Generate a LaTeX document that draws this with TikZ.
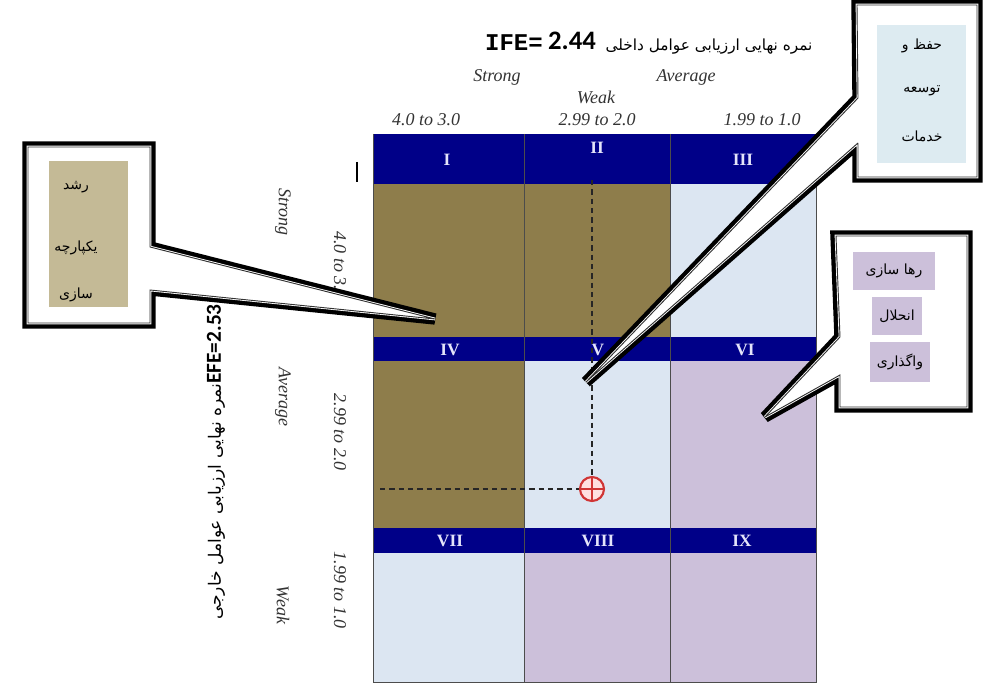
\documentclass[tikz,border=0pt]{standalone}
\usepackage{fontspec}
\setmainfont{Liberation Serif}
\newfontfamily\farsi[Script=Arabic]{DejaVu Sans}
\newfontfamily\carl{Carlito}
\newfontfamily\cmono{Liberation Mono}
\TeXXeTstate=1
\definecolor{cOlive}{HTML}{8E7D4B}
\definecolor{cBlue}{HTML}{DCE6F2}
\definecolor{cPurple}{HTML}{CCC0DA}
\definecolor{cNavy}{HTML}{000088}
\definecolor{cKhaki}{HTML}{C4BA96}
\definecolor{cPale}{HTML}{DDEBF1}
\definecolor{cNum}{HTML}{E4E4FA}
\definecolor{cMark}{HTML}{D03535}
\definecolor{cText}{HTML}{333333}
\newcommand\calloutbox[1]{%
  \draw[black, line width=8.5pt, line join=miter, miter limit=2] #1;
  \fill[white] #1;
  \draw[white, line width=2pt, line join=miter, miter limit=2] #1;
  \draw[black!80, line width=0.7pt, line join=miter, miter limit=2] #1;}
\tikzset{
  num/.style={text=cNum, font=\fontsize{13}{15}\selectfont\bfseries, inner sep=0pt},
  lab/.style={text=cText, font=\fontsize{13.5}{16}\selectfont\itshape, inner sep=0pt},
  fa/.style={text=black, font=\fontsize{10.5}{12}\farsi, inner sep=0pt},
  cellline/.style={draw=black!70, line width=0.6pt},
  guide/.style={draw=black!85, line width=0.9pt, dash pattern=on 4pt off 3pt},
}
\begin{document}
\begin{tikzpicture}[x=0.75pt, y=-0.75pt]
\useasboundingbox (0,0) rectangle (983,699);
\fill[white] (0,0) rectangle (983,699);
% cells
\fill[cOlive] (373,184) rectangle (524,337);
\fill[cOlive] (524,184) rectangle (670,337);
\fill[cBlue] (670,184) rectangle (816,337);
\fill[cOlive] (373,361) rectangle (524,528);
\fill[cBlue] (524,361) rectangle (670,528);
\fill[cPurple] (670,361) rectangle (816,528);
\fill[cBlue] (373,553) rectangle (524,682);
\fill[cPurple] (524,553) rectangle (670,682);
\fill[cPurple] (670,553) rectangle (816,682);
% header bands
\fill[cNavy] (373,134) rectangle (816,184);
\fill[cNavy] (373,337) rectangle (816,361);
\fill[cNavy] (373,528) rectangle (816,553);
% grid lines
\draw[cellline] (373,134) -- (373,682) -- (816,682) -- (816,134);
\draw[cellline] (524,134) -- (524,682);
\draw[cellline] (670,134) -- (670,682);
\draw[black, line width=1pt] (357,162) -- (357,182);
% numerals
\node[num] (n1) at (447,160) {I};
\node[num] (n2) at (597,148) {II};
\node[num] (n3) at (743,160) {III};
\node[num] (n4) at (450,350) {IV};
\node[num] (n5) at (598,350) {V};
\node[num] (n6) at (745,350) {VI};
\node[num] (n7) at (450,541) {VII};
\node[num] (n8) at (598,541) {VIII};
\node[num] (n9) at (742,541) {IX};
% top labels
\node[inner sep=0pt, font=\fontsize{18}{20}\cmono\bfseries] (ife) at (514,43) {IFE=};
\node[inner sep=0pt, font=\fontsize{20}{22}\carl\bfseries] (ifev) at (572,41) {2.44};
\node[fa, font=\fontsize{11.5}{13}\farsi] (ifet) at (709,47) {\beginR نمره نهایی ارزیابی عوامل داخلی\endR};
\node[lab] (tS) at (497,77) {Strong};
\node[lab] (tA) at (686,77) {Average};
\node[lab] (tW) at (596,97) {Weak};
\node[lab] (tr1) at (426,120) {4.0 to 3.0};
\node[lab] (tr2) at (597,120) {2.99 to 2.0};
\node[lab] (tr3) at (762,120) {1.99 to 1.0};
% left labels
\node[lab, rotate=-90] (lS) at (283,212) {Strong};
\node[lab, rotate=-90] (lA) at (283,397) {Average};
\node[lab, rotate=-90] (lW) at (283,605) {Weak};
\node[lab, rotate=-90] (lr1) at (340,265) {4.0 to 3.0};
\node[lab, rotate=-90] (lr2) at (340,432) {2.99 to 2.0};
\node[lab, rotate=-90] (lr3) at (340,590) {1.99 to 1.0};
\node[inner sep=0pt, rotate=90, anchor=east] (efe) at (216,304)
  {{\fontsize{12.8}{15}\farsi\beginR نمره نهایی ارزیابی عوامل خارجی\endR}{\fontsize{16}{18}\carl\bfseries EFE=2.53}};
% guide lines and marker
\node[circle, draw=cMark, fill=red!12, line width=1.6pt, minimum size=18pt, inner sep=0pt] (mark) at (592,489) {};
\draw[cMark, line width=1.2pt] (mark.north) -- (mark.south) (mark.west) -- (mark.east);
\coordinate (gtop) at (592,180);
\coordinate (gleft) at (380,489);
\draw[guide] (gtop) -- (mark.north);
\draw[guide] (gleft) -- (mark.west);
% callouts
\calloutbox{(28,147) -- (150,147) -- (150,247) -- (435,319) -- (150,290) -- (150,323) -- (28,323) -- cycle}
\calloutbox{(857,5) -- (977,5) -- (977,177) -- (858,177) -- (858,143) -- (586,382) -- (858,98) -- cycle}
\calloutbox{(836,236) -- (967,236) -- (967,407) -- (840,407) -- (840,375) -- (765,417) -- (840,337) -- cycle}
% callout contents
\fill[cKhaki] (49,161) rectangle (128,307);
\node[fa] (g1) at (76,187) {\beginR رشد\endR};
\node[fa] (g2) at (76,248) {\beginR یکپارچه\endR};
\node[fa] (g3) at (76,295) {\beginR سازی\endR};
\fill[cPale] (877,25) rectangle (966,163);
\node[fa] (s1) at (922,46) {\beginR حفظ و\endR};
\node[fa] (s2) at (922,91) {\beginR توسعه\endR};
\node[fa] (s3) at (922,136) {\beginR خدمات\endR};
\node[fa, fill=cPurple, minimum width=61pt, minimum height=28pt] (d1) at (894,271) {\beginR رها سازی\endR};
\node[fa, fill=cPurple, minimum width=37pt, minimum height=28pt] (d2) at (897,316) {\beginR انحلال\endR};
\node[fa, fill=cPurple, minimum width=45pt, minimum height=30pt] (d3) at (900,362) {\beginR واگذاری\endR};
\end{tikzpicture}
\end{document}
